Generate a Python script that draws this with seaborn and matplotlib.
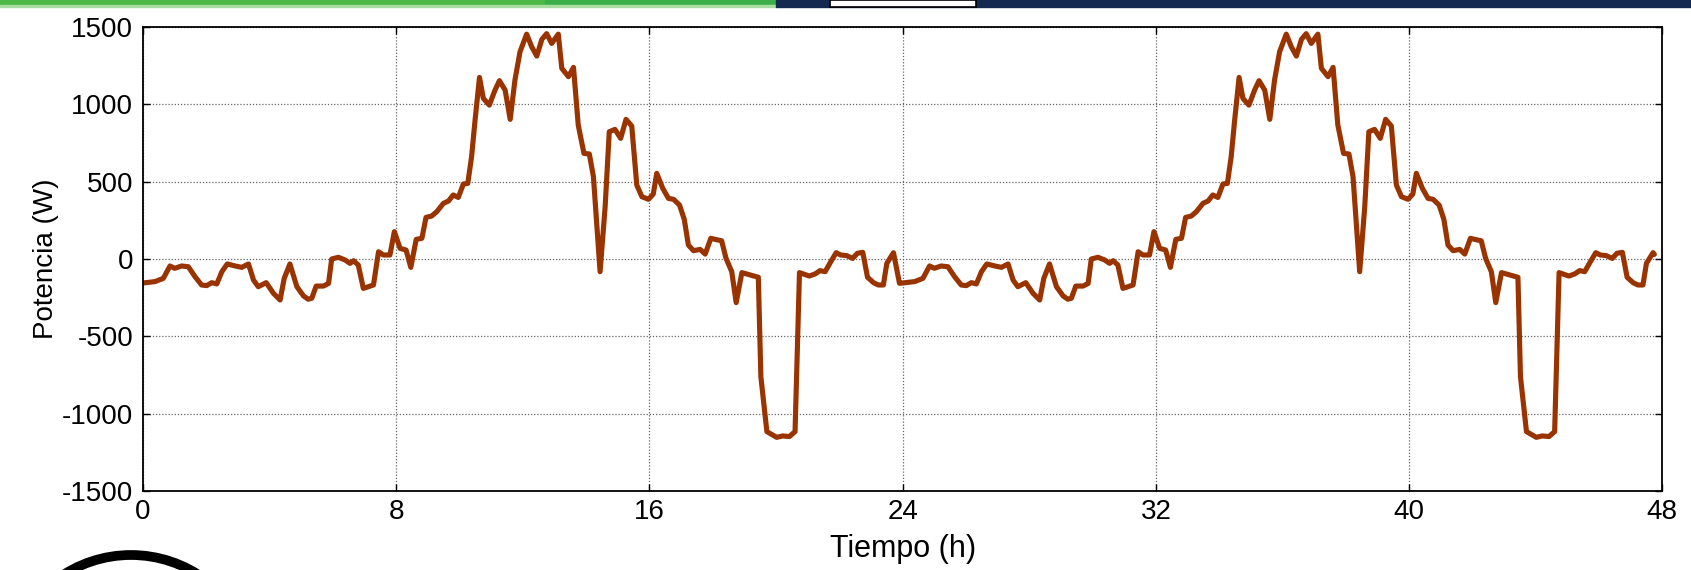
import numpy as np
import pandas as pd
import matplotlib
matplotlib.use("Agg")
import matplotlib.pyplot as plt
from matplotlib.patches import Rectangle, Arc
import seaborn as sns

# one day of readings (hour, watts), the second day repeats it
hora_dia = [0.0, 0.38, 0.64, 0.85, 1.0, 1.22, 1.43, 1.64, 1.85, 2.01, 2.17, 2.33,
            2.49, 2.66, 2.91, 3.12, 3.33, 3.49, 3.64, 3.89, 4.12, 4.33, 4.46, 4.64,
            4.86, 5.07, 5.22, 5.33, 5.47, 5.70, 5.86, 5.96, 6.17, 6.38, 6.54, 6.65,
            6.80, 6.96, 7.28, 7.44, 7.59, 7.80, 7.94, 8.12, 8.31, 8.46, 8.63, 8.81,
            8.94, 9.12, 9.28, 9.49, 9.65, 9.80, 9.96, 10.12, 10.26, 10.38, 10.49, 10.63,
            10.75, 10.94, 11.12, 11.26, 11.44, 11.60, 11.75, 11.91, 12.12, 12.28, 12.44, 12.60,
            12.75, 12.91, 13.12, 13.23, 13.44, 13.60, 13.75, 13.93, 14.10, 14.23, 14.44, 14.60,
            14.73, 14.91, 15.09, 15.26, 15.44, 15.60, 15.76, 15.97, 16.12, 16.23, 16.42, 16.60,
            16.76, 16.95, 17.10, 17.23, 17.39, 17.60, 17.76, 17.94, 18.07, 18.28, 18.42, 18.60,
            18.74, 18.92, 19.18, 19.44, 19.52, 19.71, 20.02, 20.21, 20.42, 20.60, 20.74, 21.05,
            21.23, 21.39, 21.55, 21.73, 21.90, 22.04, 22.23, 22.42, 22.57, 22.74, 22.89, 23.08,
            23.23, 23.39, 23.50, 23.71, 23.90]
potencia_dia = [-155, -146, -125, -45, -60, -45, -50, -114, -168, -172, -153, -161,
                -82, -32, -45, -54, -32, -136, -179, -153, -222, -265, -125, -32,
                -179, -239, -260, -254, -175, -175, -158, 0, 11, -6, -28, -11,
                -39, -190, -168, 47, 26, 26, 177, 69, 58, -54, 127, 134,
                269, 278, 306, 360, 375, 414, 398, 485, 489, 661, 898, 1174,
                1039, 995, 1092, 1153, 1092, 903, 1157, 1340, 1454, 1372, 1312, 1420,
                1457, 1394, 1454, 1233, 1179, 1239, 866, 683, 679, 532, -82, 338,
                823, 838, 780, 903, 860, 478, 403, 386, 420, 554, 457, 392,
                386, 349, 256, 90, 54, 62, 32, 134, 127, 118, 4, -82,
                -282, -88, -103, -118, -761, -1116, -1153, -1144, -1148, -1116, -88, -110,
                -97, -75, -82, -17, 41, 26, 22, 4, 37, 43, -118, -153,
                -168, -168, -28, 41, -157]
fin_dia2 = 47.75
fin_valor = 30

x_ticks = [0, 8, 16, 24, 32, 40, 48]
y_ticks = [-1500, -1000, -500, 0, 500, 1000, 1500]

hora_dia = np.array(hora_dia)
potencia_dia = np.array(potencia_dia)
keep = hora_dia + 24 < fin_dia2
df = pd.DataFrame({
    "hora": np.concatenate([hora_dia, hora_dia[keep] + 24, [fin_dia2]]),
    "potencia": np.concatenate([potencia_dia, potencia_dia[keep], [fin_valor]]),
})

sns.set_theme(style="white")
plt.rcParams['font.family'] = ['Liberation Sans', 'DejaVu Sans']

fig = plt.figure(figsize=(16.91, 5.70), dpi=100)
ax = fig.add_axes([0.0846, 0.1386, 0.8984, 0.814])

sns.lineplot(data=df, x="hora", y="potencia", ax=ax, color="#993300",
             linewidth=3.7, estimator=None, sort=False)

ax.set_xlim(0, 48)
ax.set_ylim(-1500, 1500)
ax.set_xticks(x_ticks)
ax.set_yticks(y_ticks)
ax.set_xticklabels([str(v) for v in x_ticks], fontsize=20)
ax.set_yticklabels([str(v) for v in y_ticks], fontsize=20)
ax.set_xlabel("Tiempo (h)", fontsize=22, labelpad=6, color="black")
ax.set_ylabel("Potencia (W)", fontsize=20, labelpad=2, color="black")
ax.grid(True, linestyle=(0, (1, 1.5)), color="#666666", linewidth=0.9)
ax.tick_params(direction="in", length=5, width=1, color="black",
               top=True, right=True, bottom=True, left=True,
               labelcolor="black")
ax.tick_params(axis="x", pad=6)
ax.tick_params(axis="y", pad=7)
for s in ax.spines.values():
    s.set_color("black")
    s.set_linewidth(1.3)

# slide decorations
fig.patches.append(Rectangle((0, 0.9915), 0.459, 0.0085, transform=fig.transFigure,
                             color="#4db848", zorder=5))
fig.patches.append(Rectangle((0.322, 0.9915), 0.137, 0.0085, transform=fig.transFigure,
                             color="#3bae4a", zorder=5))
fig.patches.append(Rectangle((0, 0.9885), 0.459, 0.003, transform=fig.transFigure,
                             color="#a8dca0", zorder=5))
fig.patches.append(Rectangle((0.459, 0.9885), 0.541, 0.0115, transform=fig.transFigure,
                             color="#13294f", zorder=5))
fig.patches.append(Rectangle((0.491, 0.987), 0.086, 0.013, transform=fig.transFigure,
                             facecolor="white", edgecolor="black", linewidth=1.2, zorder=6))
fig.patches.append(Arc((131 / 1691, 1 - 680 / 570), 2 * 125 / 1691, 2 * 125 / 570,
                       theta1=40, theta2=140, transform=fig.transFigure,
                       color="black", linewidth=7, zorder=5))

fig.savefig("out.png", dpi=100)
